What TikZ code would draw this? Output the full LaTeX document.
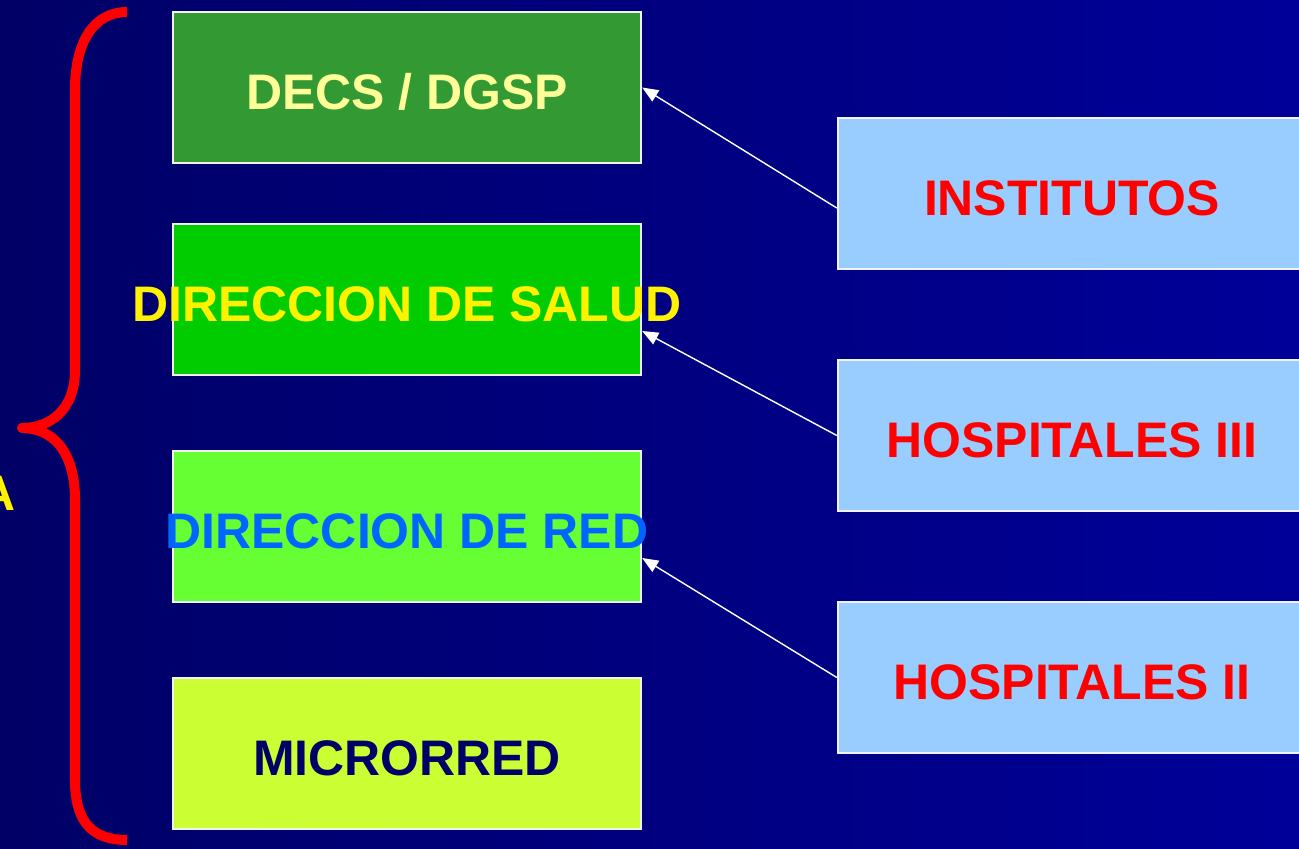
\documentclass[tikz,border=0pt]{standalone}
\usepackage{fontspec}
\setmainfont{Liberation Sans}
\usetikzlibrary{arrows.meta,positioning}

\definecolor{fondoizq}{HTML}{000066}
\definecolor{fondoder}{HTML}{000099}
\definecolor{verdeosc}{HTML}{339933}
\definecolor{verde}{HTML}{00CC00}
\definecolor{verdeclaro}{HTML}{66FF33}
\definecolor{lima}{HTML}{CCFF33}
\definecolor{celeste}{HTML}{99CCFF}
\definecolor{amarillop}{HTML}{FFFF99}
\definecolor{azulred}{HTML}{0066FF}
\definecolor{marino}{HTML}{000066}

\newcommand{\rotulo}[1]{\raisebox{-0.215cm}[0pt][0pt]{\makebox[0pt]{#1}}}

\begin{document}
\begin{tikzpicture}[x=0.01cm, y=-0.01cm,
    nivel/.style = {draw=white!90!gray, line width=0.6pt, minimum width=4.68cm, minimum height=1.51cm, inner sep=0pt, font=\bfseries\fontsize{14.2}{16}\selectfont},
    hosp/.style = {nivel, fill=celeste, text=red},
    flecha/.style = {white, line width=0.4pt, -{Triangle[length=0.16cm, width=0.13cm]}}]
		\shade[left color=fondoizq, right color=fondoder] (0,0) rectangle (1299,849);
		\useasboundingbox (0,0) rectangle (1299,849);
		
		\node[nivel, fill=verdeosc, text=amarillop] (decs) at (407,87.5) {\rotulo{DECS / DGSP}};
		\node[nivel, fill=verde, text=yellow] (diresa) at (407,299.5) {\rotulo{DIRECCION DE SALUD}};
		\node[nivel, fill=verdeclaro, text=azulred] (red) at (407,526.5) {\rotulo{DIRECCION DE RED}};
		\node[nivel, fill=lima, text=marino] (micro) at (407,753.5) {\rotulo{MICRORRED}};
		
		\node[hosp] (inst) at (1072,193.5) {\rotulo{INSTITUTOS}};
		\node[hosp] (hosp3) at (1072,435.5) {\rotulo{HOSPITALES III}};
		\node[hosp] (hosp2) at (1072,677.5) {\rotulo{HOSPITALES II}};
		
		\node[anchor=east, inner sep=0pt, text=yellow, font=\bfseries\fontsize{14.2}{16}\selectfont] (letra) at (16,493) {A};
		
		% llave
		\draw[red, line width=0.1cm, line join=round] (127,12) .. controls (95,12) and (75,40) .. (75,90) -- (75,370)
			.. controls (75,410) and (50,428) .. (22,428)
			.. controls (50,428) and (75,448) .. (75,500) -- (75,780)
			.. controls (75,825) and (95,840) .. (127,840);
		
		\draw[flecha] ([yshift=-0.145cm]inst.west) -- (decs.east);
		\draw[flecha] (hosp3.west) -- ([yshift=-0.315cm]diresa.east);
		\draw[flecha] (hosp2.west) -- ([yshift=-0.315cm]red.east);
	\end{tikzpicture}
\end{document}
